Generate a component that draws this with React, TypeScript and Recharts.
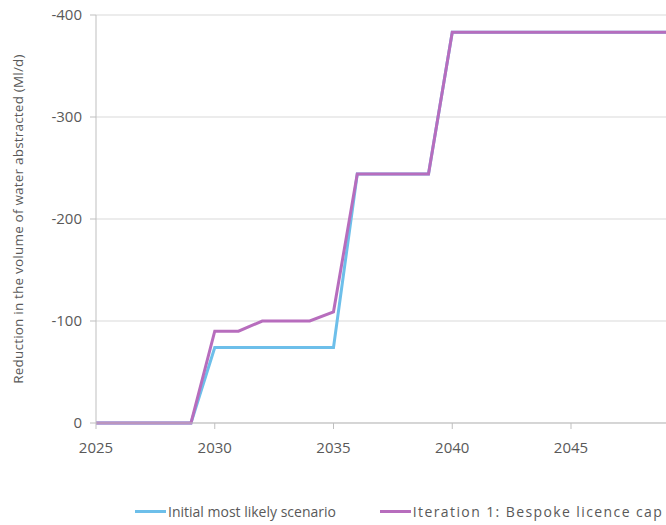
import React from 'react';
import { LineChart, Line, XAxis, YAxis, CartesianGrid, Legend, Label } from 'recharts';

const years = [2025, 2026, 2027, 2028, 2029, 2030, 2031, 2032, 2033, 2034, 2035, 2036, 2037, 2038, 2039, 2040, 2041, 2042, 2043, 2044, 2045, 2046, 2047, 2048, 2049];
const initialScenario = [0, 0, 0, 0, 0, -74, -74, -74, -74, -74, -74, -244, -244, -244, -244, -383, -383, -383, -383, -383, -383, -383, -383, -383, -383];
const bespokeCap = [0, 0, 0, 0, 0, -90, -90, -100, -100, -100, -109, -244, -244, -244, -244, -383, -383, -383, -383, -383, -383, -383, -383, -383, -383];
const xTicks = [2025, 2030, 2035, 2040, 2045];
const yTicks = [0, -100, -200, -300, -400];

const BLUE = '#6dbfea';
const PURPLE = '#b76dbd';
const FONT = '"Open Sans", "Liberation Sans", sans-serif';

const data = years.map((year, i) => ({
  year,
  initial: initialScenario[i],
  bespoke: bespokeCap[i],
}));

const legendItems = [
  { label: 'Initial most likely scenario', color: BLUE, width: 248, spacing: 0 },
  { label: 'Iteration 1: Bespoke licence cap', color: PURPLE, width: 290, spacing: 1.4 },
];

const ChartLegend = () => (
  <div style={{ display: 'flex', fontFamily: FONT, fontSize: 14, color: '#595959', paddingLeft: 135 }}>
    {legendItems.map((item) => (
      <div key={item.label} style={{ display: 'flex', alignItems: 'center', width: item.width, whiteSpace: 'nowrap' }}>
        <span style={{ display: 'inline-block', width: 31, height: 3, background: item.color, marginRight: 2 }} />
        <span style={{ letterSpacing: item.spacing }}>{item.label}</span>
      </div>
    ))}
  </div>
);

export default function App() {
  return (
    <div style={{ position: 'absolute', left: 0, top: 0, background: '#fff' }}>
      <LineChart width={666} height={525} data={data} margin={{ top: 15, right: 0, left: 0, bottom: 53 }}>
        <CartesianGrid horizontal vertical={false} stroke="#d9d9d9" />
        <XAxis
          dataKey="year"
          type="number"
          domain={[2025, 2049]}
          ticks={xTicks}
          allowDataOverflow
          height={30}
          stroke="#bfbfbf"
          tickSize={6}
          tickMargin={13}
          tick={{ fill: '#595959', fontSize: 15, fontFamily: FONT }}
        />
        <YAxis
          reversed
          domain={[-400, 0]}
          ticks={yTicks}
          width={96}
          stroke="#bfbfbf"
          tickSize={6}
          tickMargin={8}
          tick={{ fill: '#595959', fontSize: 15, fontFamily: FONT }}
        >
          <Label
            value="Reduction in the volume of water abstracted (Ml/d)"
            angle={-90}
            position="insideLeft"
            offset={18}
            style={{ textAnchor: 'middle', fill: '#595959', fontSize: 13.5, fontFamily: FONT, letterSpacing: 0.2 }}
          />
        </YAxis>
        <Legend verticalAlign="bottom" content={<ChartLegend />} wrapperStyle={{ bottom: 4 }} />
        <Line type="linear" dataKey="initial" stroke={BLUE} strokeWidth={3} dot={false} isAnimationActive={false} />
        <Line type="linear" dataKey="bespoke" stroke={PURPLE} strokeWidth={3} dot={false} isAnimationActive={false} />
      </LineChart>
    </div>
  );
}
